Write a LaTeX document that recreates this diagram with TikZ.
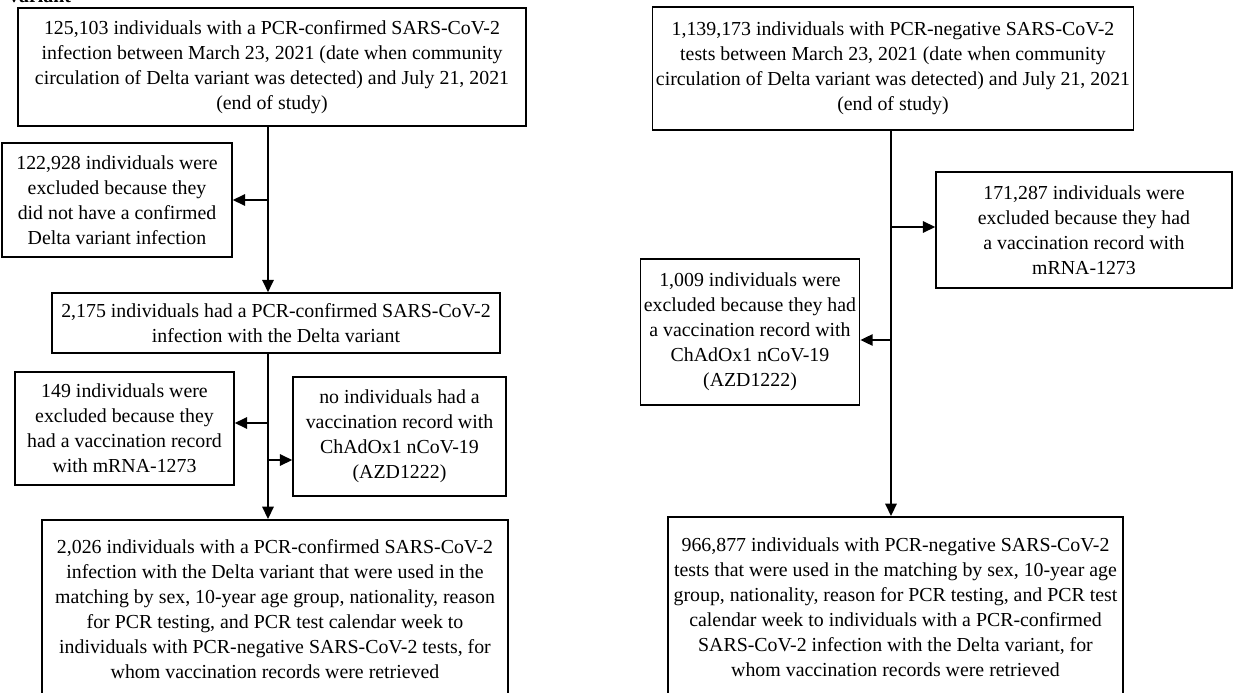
\documentclass[tikz,border=0pt]{standalone}
\usepackage{fontspec}
\setmainfont{Liberation Serif}
\usetikzlibrary{arrows.meta}
\usetikzlibrary{positioning}

\begin{document}
\begin{tikzpicture}[x=0.02cm, y=-0.02cm,
        box/.style={draw, line width=0.9pt, align=center, inner sep=2pt,
                    font=\fontsize{11.3}{14.2}\selectfont},
        arr/.style={->, line width=0.9pt, >={Triangle[length=7pt,width=6.5pt]}}]
        \useasboundingbox (0,0) rectangle (1248,693);
        \node[anchor=base west, font=\fontsize{11.3}{14.2}\selectfont\bfseries] at (3,3) (head) {variant};
        % left column: PCR-confirmed cases
        \node[box, minimum width=10.16cm, minimum height=2.36cm] at (272,67) (cases) {125,103 individuals with a PCR-confirmed SARS-CoV-2\\ infection between March 23, 2021 (date when community\\ circulation of Delta variant was detected) and July 21, 2021\\ (end of study)};
        \node[box, minimum width=4.6cm, minimum height=2.28cm] at (117,200) (nodelta) {122,928 individuals were\\ excluded because they\\ did not have a confirmed\\ Delta variant infection};
        \node[box, minimum width=8.96cm, minimum height=1.2cm] at (276,323) (delta) {2,175 individuals had a PCR-confirmed SARS-CoV-2\\ infection with the Delta variant};
        \node[box, minimum width=4.38cm, minimum height=2.26cm] at (124.5,428.5) (casemrna) {149 individuals were\\ excluded because they\\ had a vaccination record\\ with mRNA-1273};
        \node[box, minimum width=4.26cm, minimum height=2.38cm] at (399.5,436.5) (caseazd) {no individuals had a\\ vaccination record with\\ ChAdOx1 nCoV-19\\ (AZD1222)};
        \node[box, anchor=north, minimum width=9.32cm, minimum height=3.56cm] at (275,519) (casefinal) {2,026 individuals with a PCR-confirmed SARS-CoV-2\\ infection with the Delta variant that were used in the\\ matching by sex, 10-year age group, nationality, reason\\ for PCR testing, and PCR test calendar week to\\ individuals with PCR-negative SARS-CoV-2 tests, for\\ whom vaccination records were retrieved};
        \coordinate (l1) at (268,125);
        \coordinate (l2) at (268,200);
        \coordinate (l3) at (268,353);
        \coordinate (l4) at (268,423);
        \coordinate (l5) at (268,460);
        \draw[arr] (l1) -- (l1 |- delta.north);
        \draw[arr] (l2) -- (l2 -| nodelta.east);
        \draw[arr] (l3) -- (l3 |- casefinal.north);
        \draw[arr] (l4) -- (l4 -| casemrna.east);
        \draw[arr] (l5) -- (l5 -| caseazd.west);
        % right column: PCR-negative controls
        \node[box, minimum width=9.6cm, minimum height=2.46cm] at (893,68.5) (controls) {1,139,173 individuals with PCR-negative SARS-CoV-2\\ tests between March 23, 2021 (date when community\\ circulation of Delta variant was detected) and July 21, 2021\\ (end of study)};
        \node[box, minimum width=5.92cm, minimum height=2.32cm] at (1084,230) (ctrlmrna) {171,287 individuals were\\ excluded because they had\\ a vaccination record with\\ mRNA-1273};
        \node[box, minimum width=4.32cm, minimum height=2.92cm] at (750,332) (ctrlazd) {1,009 individuals were\\ excluded because they had\\ a vaccination record with\\ ChAdOx1 nCoV-19\\ (AZD1222)};
        \node[box, anchor=north, minimum width=9.1cm, minimum height=3.62cm] at (895.5,516) (ctrlfinal) {966,877 individuals with PCR-negative SARS-CoV-2\\ tests that were used in the matching by sex, 10-year age\\ group, nationality, reason for PCR testing, and PCR test\\ calendar week to individuals with a PCR-confirmed\\ SARS-CoV-2 infection with the Delta variant, for\\ whom vaccination records were retrieved};
        \coordinate (r1) at (891,130);
        \coordinate (r2) at (891,227);
        \coordinate (r3) at (891,340);
        \draw[arr] (r1) -- (r1 |- ctrlfinal.north);
        \draw[arr] (r2) -- (r2 -| ctrlmrna.west);
        \draw[arr] (r3) -- (r3 -| ctrlazd.east);
\end{tikzpicture}
\end{document}
